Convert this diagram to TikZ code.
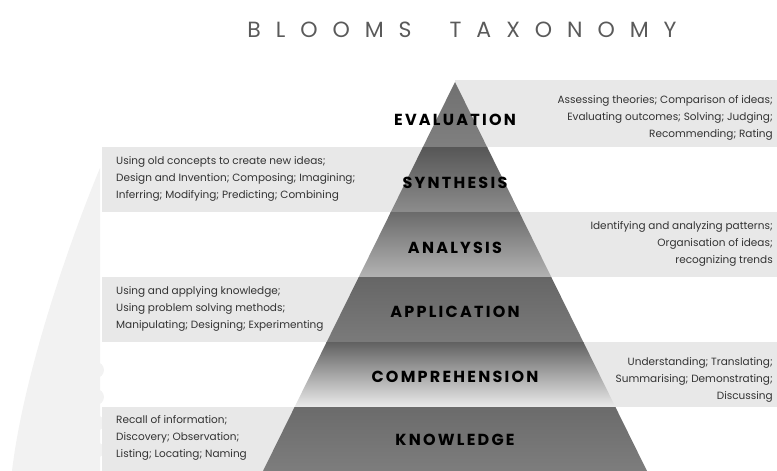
\documentclass[tikz,border=0pt]{standalone}
\usepackage{fontspec}
\usepackage{tikz}
\setmainfont{Poppins}
\newfontfamily\titlefont{Poppins}[LetterSpace=68]
\newfontfamily\tierfont{Poppins}[LetterSpace=14]

\definecolor{bandgray}{HTML}{E8E8E8}
\definecolor{markgray}{HTML}{F2F2F2}
\definecolor{notegray}{HTML}{333333}
\definecolor{titlegray}{HTML}{5A5A5A}

\tikzset{
  band/.style={fill=bandgray},
  title/.style={font=\titlefont\fontsize{22}{22}\selectfont, text=titlegray},
  tier/.style={font=\tierfont\bfseries\fontsize{16}{16}\selectfont, text=black},
  note/.style={font=\fontsize{10.5}{17}\selectfont, text=notegray, inner sep=0pt},
  noteleft/.style={note, align=left, anchor=west},
  noteright/.style={note, align=right, anchor=east},
}

\begin{document}
\begin{tikzpicture}[x=1pt,y=-1pt]
   \useasboundingbox (0,0) rectangle (777,471);
   % faint mark behind the left column
   \fill[markgray] (100,168) .. controls (72,235) and (24,370) .. (12,471) -- (100,471) -- cycle;
   \foreach \y in {370,397,423,450}
      \fill[markgray] (96,\y) circle [radius=8pt];
   % text bands, alternating sides
   \fill[band] (455,80) rectangle (777,147);
   \fill[band] (102,147) rectangle (455,212);
   \fill[band] (455,212) rectangle (777,277);
   \fill[band] (102,277) rectangle (455,342);
   \fill[band] (455,342) rectangle (777,407);
   \fill[band] (102,407) rectangle (455,471);
   % pyramid, one shaded slice per level
   \begin{scope}
      \clip (455,82) -- (647,471) -- (263,471) -- cycle;
      \shade[top color=black!56, bottom color=black!50] (250,80) rectangle (660,147);
      \shade[top color=black!66, bottom color=black!45] (250,147) rectangle (660,212);
      \shade[top color=black!58, middle color=black!44, bottom color=black!30] (250,212) rectangle (660,277);
      \shade[top color=black!60, bottom color=black!52] (250,277) rectangle (660,342);
      \shade[top color=black!62, middle color=black!42, bottom color=black!8] (250,342) rectangle (660,407);
      \shade[top color=black!58, bottom color=black!51] (250,407) rectangle (660,471);
   \end{scope}
   % headings
   \node[title] (title) at (462,30) {BLOOMS\hspace{38pt}TAXONOMY};
   \node[tier] (evaluation) at (455,120) {EVALUATION};
   \node[tier] (synthesis) at (455,183) {SYNTHESIS};
   \node[tier] (analysis) at (455,248) {ANALYSIS};
   \node[tier] (application) at (455,312) {APPLICATION};
   \node[tier] (comprehension) at (455,377) {COMPREHENSION};
   \node[tier] (knowledge) at (455,440) {KNOWLEDGE};
   % notes beside each level
   \node[noteright] (evalnote) at (773,118) {Assessing theories; Comparison of ideas;\\Evaluating outcomes; Solving; Judging;\\Recommending; Rating};
   \node[noteleft] (synthnote) at (116,179) {Using old concepts to create new ideas;\\Design and Invention; Composing; Imagining;\\Inferring; Modifying; Predicting; Combining};
   \node[noteright] (analnote) at (773,244) {Identifying and analyzing patterns;\\Organisation of ideas;\\recognizing trends};
   \node[noteleft] (applnote) at (116,309) {Using and applying knowledge;\\Using problem solving methods;\\Manipulating; Designing; Experimenting};
   \node[noteright] (compnote) at (773,380) {Understanding; Translating;\\Summarising; Demonstrating;\\Discussing};
   \node[noteleft] (knownote) at (116,438) {Recall of information;\\Discovery; Observation;\\Listing; Locating; Naming};
\end{tikzpicture}
\end{document}
